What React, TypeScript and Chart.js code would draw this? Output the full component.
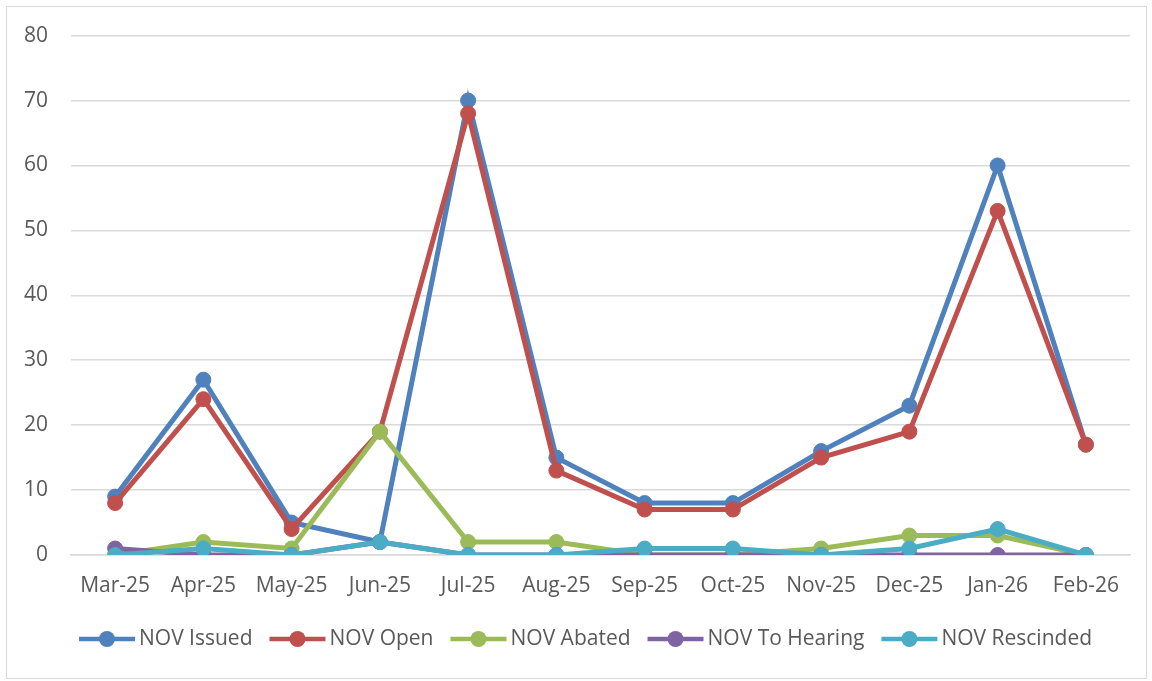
import React, { useEffect, useRef } from "react";
import { Chart, registerables } from "chart.js";

Chart.register(...registerables);

const categories = ["Mar-25", "Apr-25", "May-25", "Jun-25", "Jul-25", "Aug-25", "Sep-25", "Oct-25", "Nov-25", "Dec-25", "Jan-26", "Feb-26"];
const novIssued = [9, 27, 5, 2, 70, 15, 8, 8, 16, 23, 60, 17];
const novOpen = [8, 24, 4, 19, 68, 13, 7, 7, 15, 19, 53, 17];
const novAbated = [0, 2, 1, 19, 2, 2, 0, 0, 1, 3, 3, 0];
const novToHearing = [1, 0, 0, 2, 0, 0, 0, 0, 0, 0, 0, 0];
const novRescinded = [0, 1, 0, 2, 0, 0, 1, 1, 0, 1, 4, 0];
const seriesNames = ["NOV Issued", "NOV Open", "NOV Abated", "NOV To Hearing", "NOV Rescinded"];
const seriesColors = ["#4f81bd", "#c0504d", "#9bbb59", "#8064a2", "#4bacc6"];

const FONT = '"Open Sans", "Noto Sans", sans-serif';
const TEXT = "#595959";

const legendPlugin = {
  id: "customLegend",
  afterDraw(chart: any) {
    const ctx = chart.ctx;
    ctx.save();
    ctx.font = `21px ${FONT}`;
    const lineW = 56;
    const gapText = 4;
    const gapItem = 17;
    const items = chart.data.datasets.map((d: any) => ({
      label: d.label,
      color: d.borderColor,
      w: lineW + gapText + ctx.measureText(d.label).width,
    }));
    const total = items.reduce((s: number, it: any) => s + it.w, 0) + gapItem * (items.length - 1);
    let x = 585.5 - total / 2;
    const y = 639;
    for (const it of items) {
      ctx.strokeStyle = it.color;
      ctx.lineWidth = 4.5;
      ctx.beginPath();
      ctx.moveTo(x, y);
      ctx.lineTo(x + lineW, y);
      ctx.stroke();
      ctx.fillStyle = it.color;
      ctx.beginPath();
      ctx.arc(x + lineW / 2, y, 8, 0, Math.PI * 2);
      ctx.fill();
      ctx.fillStyle = TEXT;
      ctx.textBaseline = "middle";
      ctx.textAlign = "left";
      ctx.fillText(it.label, x + lineW + gapText, y);
      x += it.w + gapItem;
    }
    ctx.restore();
  },
};

export default function App() {
  const ref = useRef<HTMLCanvasElement | null>(null);
  useEffect(() => {
    if (!ref.current) return;
    const allSeries = [novIssued, novOpen, novAbated, novToHearing, novRescinded];
    const chart = new Chart(ref.current, {
      type: "line",
      data: {
        labels: categories,
        datasets: allSeries.map((data, i) => ({
          label: seriesNames[i],
          data,
          borderColor: seriesColors[i],
          backgroundColor: seriesColors[i],
          pointBackgroundColor: seriesColors[i],
          pointBorderColor: seriesColors[i],
          borderWidth: 5,
          pointRadius: 7.5,
          pointBorderWidth: 1,
          pointHoverRadius: 7.5,
          tension: 0,
          order: 5 - i,
        })),
      },
      options: {
        animation: false,
        responsive: false,
        maintainAspectRatio: false,
        layout: { padding: { left: 0, right: 22, top: 35, bottom: 76 } },
        plugins: { legend: { display: false }, tooltip: { enabled: false } },
        scales: {
          x: {
            offset: true,
            grid: { display: false, drawTicks: false },
            border: { display: true, color: "#d9d9d9", width: 1.5 },
            ticks: { color: TEXT, font: { family: FONT, size: 21 }, padding: 18, maxRotation: 0, autoSkip: false },
            afterFit(scale: any) {
              scale.height = 50;
            },
          },
          y: {
            min: 0,
            max: 80,
            ticks: { stepSize: 10, color: TEXT, font: { family: FONT, size: 21 }, padding: 23 },
            grid: { color: "#d9d9d9", lineWidth: 1.5, drawTicks: false },
            border: { display: false },
            afterFit(scale: any) {
              scale.width = 71;
            },
          },
        },
      },
      plugins: [legendPlugin],
    } as any);
    return () => chart.destroy();
  }, []);
  return (
    <div style={{ position: "absolute", left: 0, top: 0, width: 1152, height: 681, background: "#fff" }}>
      <div style={{ position: "absolute", left: 6, top: 6, width: 1139, height: 671, border: "1px solid #d9d9d9" }} />
      <canvas ref={ref} width={1152} height={681} style={{ position: "absolute", left: 0, top: 0, width: 1152, height: 681 }} />
    </div>
  );
}
